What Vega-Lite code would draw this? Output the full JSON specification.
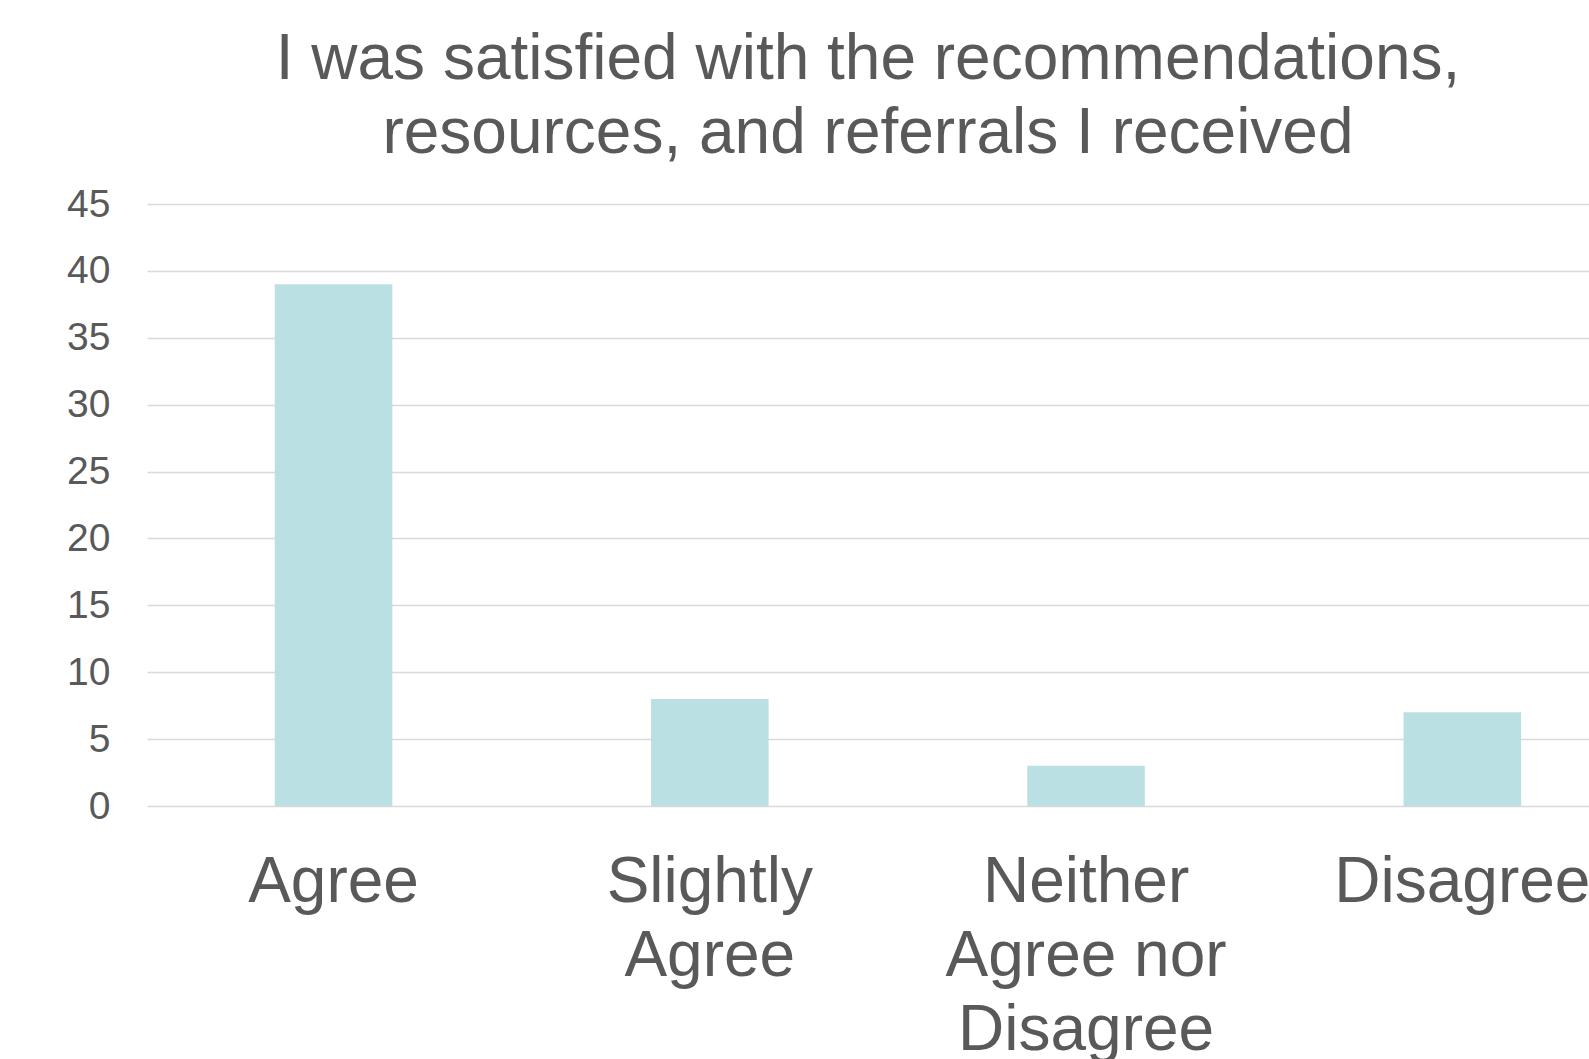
{
  "$schema": "https://vega.github.io/schema/vega-lite/v6.json",
  "autosize": {"type": "none"},
  "padding": {"left": 147, "top": 204, "right": 0, "bottom": 253},
  "width": 1442,
  "height": 602,
  "background": "white",
  "title": {
    "text": ["I was satisfied with the recommendations,", "resources, and referrals I received"],
    "font": "Liberation Sans",
    "fontSize": 64,
    "fontWeight": "normal",
    "color": "#595959",
    "lineHeight": 74,
    "anchor": "middle",
    "frame": "group",
    "offset": 19
  },
  "data": {
    "values": [
      {"response": "Agree", "count": 39},
      {"response": "Slightly Agree", "count": 8},
      {"response": "Neither Agree nor Disagree", "count": 3},
      {"response": "Disagree", "count": 7}
    ]
  },
  "mark": {"type": "bar", "color": "#bbe0e3"},
  "encoding": {
    "x": {
      "field": "response",
      "type": "nominal",
      "sort": null,
      "scale": {"paddingInner": 0.6875, "paddingOuter": 0.26, "align": 0.653},
      "axis": {
        "title": null,
        "domain": false,
        "ticks": false,
        "labelAngle": 0,
        "labelFont": "Liberation Sans",
        "labelFontSize": 64,
        "labelColor": "#595959",
        "labelLineHeight": 74,
        "labelPadding": 44,
        "labelBaseline": "top",
        "labelOverlap": false,
        "labelBound": false,
        "labelFlush": false,
        "labelLimit": 0,
        "labelExpr": "datum.label == 'Slightly Agree' ? ['Slightly', 'Agree'] : datum.label == 'Neither Agree nor Disagree' ? ['Neither', 'Agree nor', 'Disagree'] : datum.label"
      }
    },
    "y": {
      "field": "count",
      "type": "quantitative",
      "scale": {"domain": [0, 45], "nice": false},
      "axis": {
        "title": null,
        "values": [0, 5, 10, 15, 20, 25, 30, 35, 40, 45],
        "domain": false,
        "ticks": false,
        "grid": true,
        "gridColor": "#d9d9d9",
        "gridWidth": 1.5,
        "labelFont": "Liberation Sans",
        "labelFontSize": 39,
        "labelColor": "#595959",
        "labelPadding": 37
      }
    }
  },
  "config": {"view": {"stroke": null}}
}
